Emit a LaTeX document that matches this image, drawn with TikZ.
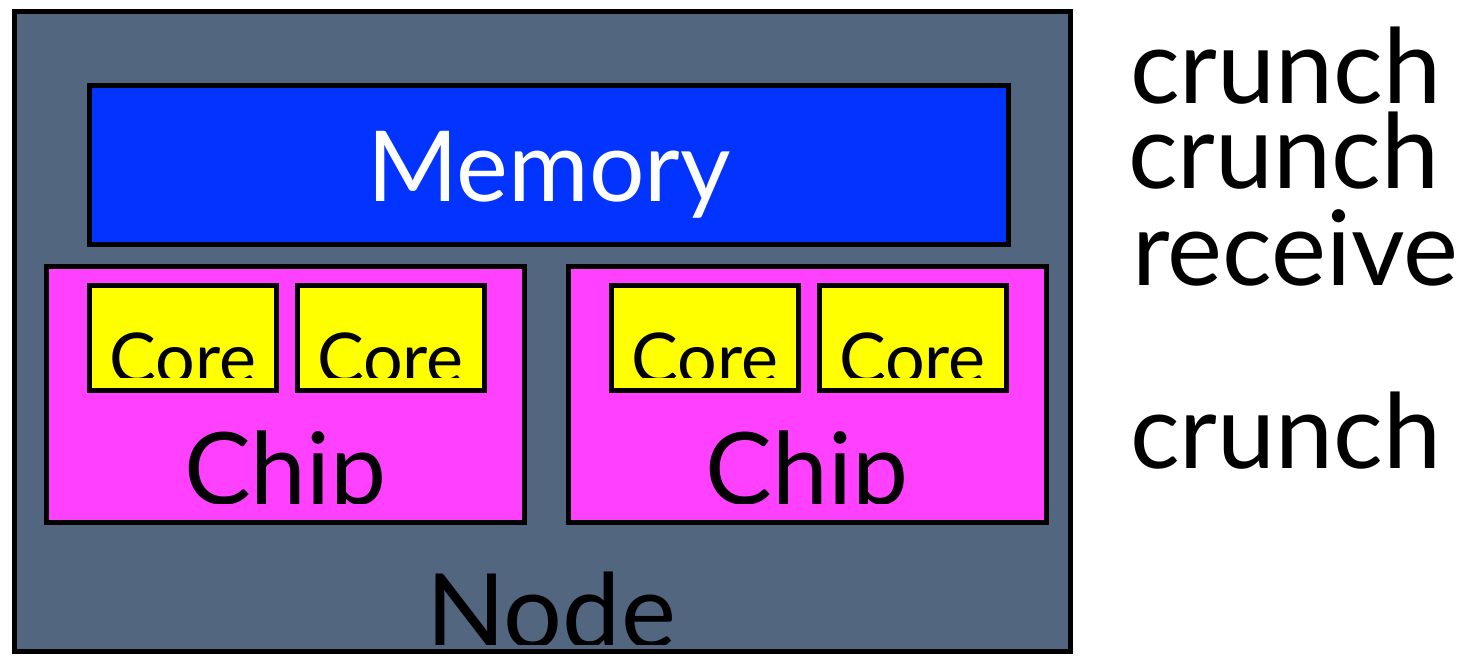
\documentclass[tikz,border=0pt]{standalone}
\usepackage{fontspec}
\setmainfont{Lato}
\definecolor{nodebg}{RGB}{82,102,128}
\definecolor{membl}{RGB}{3,51,255}
\definecolor{chipmg}{RGB}{255,64,255}
\definecolor{coreyl}{RGB}{255,255,0}
\begin{document}
\begin{tikzpicture}[x=1pt,y=-1pt,
  box/.style={draw=black,line width=5pt,inner sep=0pt,outer sep=0pt},
  corebox/.style={box,fill=coreyl,minimum width=187pt,minimum height=105pt},
  chipbox/.style={box,fill=chipmg,minimum width=478pt,minimum height=256pt},
  coretext/.style={anchor=base,inner sep=0pt,font=\fontsize{70}{70}\selectfont},
  chiptext/.style={anchor=base,inner sep=0pt,font=\fontsize{100}{100}\selectfont},
  sidetext/.style={anchor=base west,inner sep=0pt,font=\fontsize{104}{104}\selectfont}]
\useasboundingbox[fill=white] (0,0) rectangle (1463,656);
\begin{scope}
\clip (0,0) rectangle (1463,656);
\node[box,fill=nodebg,minimum width=1056pt,minimum height=640pt] (node) at (542.5,331.5) {};
\node[box,fill=membl,minimum width=919pt,minimum height=159pt] (mem) at (549,165) {};
\node[anchor=base,inner sep=0pt,text=white,font=\fontsize{98}{98}\selectfont] (memt) at (549,201) {Memory};
\node[chipbox] (chipL) at (285.5,394.5) {};
\node[chipbox] (chipR) at (807,394.5) {};
\node[corebox] (c1) at (183,338) {};
\node[corebox] (c2) at (390.5,338) {};
\node[corebox] (c3) at (705,338) {};
\node[corebox] (c4) at (912.5,338) {};
\begin{scope}
\clip (60,285.5) rectangle (1040,377);
\node[coretext] (c1t) at (183,383) {Core};
\node[coretext] (c2t) at (390.5,383) {Core};
\node[coretext] (c3t) at (705,383) {Core};
\node[coretext] (c4t) at (912.5,383) {Core};
\end{scope}
\begin{scope}
\clip (46.5,400) rectangle (1045.5,503);
\node[chiptext] (chipLt) at (285.5,504) {Chip};
\node[chiptext] (chipRt) at (807,504) {Chip};
\end{scope}
\begin{scope}
\clip (17,540) rectangle (1068,644);
\node[anchor=base,inner sep=0pt,font=\fontsize{104}{104}\selectfont] (nodet) at (551,648) {Node};
\end{scope}
\end{scope}
\node[sidetext] (s1) at (1130,103) {crunch};
\node[sidetext] (s2) at (1128,188) {crunch};
\node[sidetext] (s3) at (1132,285) {receive};
\node[sidetext] (s4) at (1130,468) {crunch};
\end{tikzpicture}
\end{document}
